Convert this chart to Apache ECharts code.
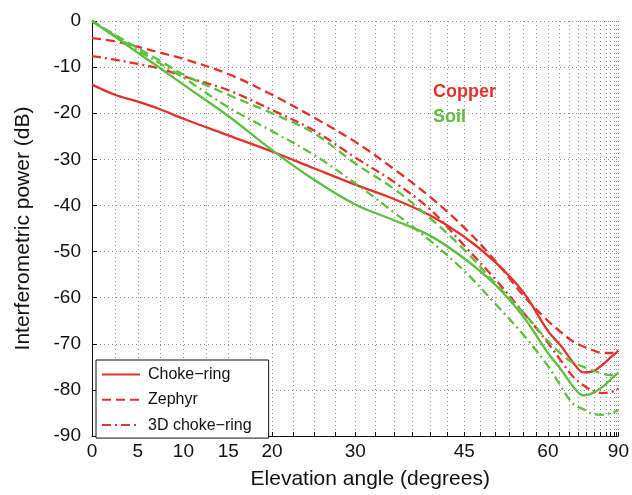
<!DOCTYPE html>
<html>
<head>
<meta charset="utf-8">
<script src="https://cdn.jsdelivr.net/npm/echarts@6/dist/echarts.min.js"></script>
<style>
html,body{margin:0;padding:0;background:#fff;}
#chart{width:632px;height:495px;}
</style>
</head>
<body>
<div id="chart"></div>
<script>
// Elevation angles (degrees) at which the curves were read
const elevations = [0, 2.5, 5, 7.5, 10, 15, 20, 25, 30, 35, 40, 45, 50, 55, 60, 63, 66, 69, 72, 76, 80, 85, 90];

// Copper ground plane (red)
const copperChokeRing = [-13.8, -16.0, -17.5, -19.2, -21.2, -24.8, -28.3, -32.0, -35.5, -38.6, -42.2, -46.8, -52.3, -58.8, -67.2, -70.5, -74.0, -76.2, -76.0, -74.5, -73.0, -71.9, -71.5];
const copperZephyr = [-3.7, -4.4, -5.6, -6.9, -8.2, -11.5, -16.0, -21.0, -26.2, -32.1, -38.2, -44.8, -52.0, -59.5, -65.0, -67.5, -69.5, -70.6, -71.4, -72.0, -72.0, -71.7, -71.5];
const copper3DChokeRing = [-7.6, -8.4, -9.3, -10.4, -12.0, -15.0, -19.3, -23.8, -29.6, -34.9, -40.9, -48.7, -56.0, -63.2, -69.8, -73.7, -77.1, -79.0, -80.2, -80.7, -80.5, -80.0, -79.7];

// Soil ground (green)
const soilChokeRing = [0, -3.4, -6.9, -10.3, -13.8, -20.6, -28.0, -34.5, -39.8, -43.2, -46.6, -51.5, -57.2, -64.1, -72.0, -75.6, -79.2, -81.2, -80.7, -79.3, -77.8, -76.6, -76.2];
const soilZephyr = [0, -3.0, -5.9, -8.7, -11.6, -16.0, -20.0, -24.4, -30.9, -36.4, -42.8, -49.6, -56.9, -63.2, -69.4, -72.2, -74.1, -75.0, -75.8, -76.5, -76.8, -76.6, -76.5];
const soil3DChokeRing = [0, -3.2, -6.4, -9.3, -12.3, -18.7, -23.9, -29.1, -35.2, -41.5, -47.7, -54.2, -61.3, -68.0, -74.8, -79.3, -83.0, -84.2, -85.2, -85.4, -85.0, -84.6, -84.4];

// Axis ticks
const xTickLabelsDeg = [0, 5, 10, 15, 20, 30, 45, 60, 90];
const xTickMarksDeg = [0, 2.5, 5, 7.5, 10, 12.5, 15, 17.5, 20, 22.5, 25, 27.5, 30, 32.5, 35, 37.5, 40, 42.5, 45, 47.5, 50, 52.5, 55, 57.5, 60, 62.5, 65, 67.5, 70, 72.5, 75, 77.5, 80, 82.5, 85, 87.5, 90];
const yMin = -90, yMax = 0, yStep = 10;

const legendNames = ['Choke\u2212ring', 'Zephyr', '3D choke\u2212ring'];

const RED = '#e2322b';
const GREEN = '#5cbf3f';

// The horizontal axis is sin(elevation)
const toAxis = d => Math.min(1, Math.sin(d * Math.PI / 180));
const fromAxis = v => Math.round(Math.asin(Math.min(1, v)) * 180 / Math.PI);
const pairs = arr => elevations.map((e, i) => [toAxis(e), arr[i]]);

const solid = 'solid';
const dashed = [9, 5];
const dashDot = [9, 4, 2, 4];

function mk(name, data, color, type) {
  return {
    name: name,
    type: 'line',
    data: pairs(data),
    symbol: 'none',
    smooth: 0.35,
    lineStyle: { color: color, width: 2.3, type: type },
    itemStyle: { color: color },
    emphasis: { disabled: true },
    z: 3
  };
}

const chart = echarts.init(document.getElementById('chart'), null, { renderer: 'canvas' });
const FONT = '"Liberation Sans", Arial, Helvetica, sans-serif';

chart.setOption({
  animation: false,
  backgroundColor: '#fff',
  grid: { left: 92, right: 12, top: 21, bottom: 57.5 },
  xAxis: {
    type: 'value',
    min: 0,
    max: 1,
    name: 'Elevation angle (degrees)',
    nameLocation: 'middle',
    nameGap: 33,
    nameTextStyle: { fontFamily: FONT, fontSize: 21, color: '#111', padding: [0, 0, 0, 30] },
    axisLine: { show: true, onZero: false, lineStyle: { color: '#111', width: 1 } },
    axisTick: { show: true, inside: true, length: 4, lineStyle: { color: '#111' }, customValues: xTickMarksDeg.map(toAxis) },
    axisLabel: { fontFamily: FONT, fontSize: 19, color: '#111', margin: 6, customValues: xTickLabelsDeg.map(toAxis), formatter: v => String(fromAxis(v)) },
    splitLine: { show: true, lineStyle: { color: '#8a8a8a', width: 1, type: [1, 3] } }
  },
  yAxis: {
    type: 'value',
    min: yMin,
    max: yMax,
    interval: yStep,
    name: 'Interferometric power (dB)',
    nameLocation: 'middle',
    nameGap: 58,
    nameTextStyle: { fontFamily: FONT, fontSize: 21, color: '#111' },
    axisLine: { show: true, onZero: false, lineStyle: { color: '#111', width: 1 } },
    axisTick: { show: true, inside: true, length: 5, lineStyle: { color: '#111' } },
    axisLabel: { fontFamily: FONT, fontSize: 19, color: '#111', margin: 11 },
    splitLine: { show: true, lineStyle: { color: '#8a8a8a', width: 1, type: [1, 3] } }
  },
  legend: {
    data: legendNames,
    orient: 'vertical',
    left: 96,
    top: 360,
    itemWidth: 38,
    itemHeight: 14,
    itemGap: 9.3,
    padding: [6.5, 17, 5, 5],
    backgroundColor: '#fff',
    borderColor: '#111',
    borderWidth: 1,
    borderRadius: 0,
    selectedMode: false,
    itemStyle: { opacity: 0 },
    textStyle: { fontFamily: FONT, fontSize: 16, color: '#111', padding: [0, 0, 0, 3] }
  },
  graphic: [
    { type: 'text', left: 433, top: 83, style: { text: 'Copper', fill: RED, font: 'bold 18px ' + FONT } },
    { type: 'text', left: 433, top: 108, style: { text: 'Soil', fill: GREEN, font: 'bold 18px ' + FONT } }
  ],
  series: [
    mk(legendNames[0], copperChokeRing, RED, solid),
    mk(legendNames[1], copperZephyr, RED, dashed),
    mk(legendNames[2], copper3DChokeRing, RED, dashDot),
    mk(legendNames[0], soilChokeRing, GREEN, solid),
    mk(legendNames[1], soilZephyr, GREEN, dashed),
    mk(legendNames[2], soil3DChokeRing, GREEN, dashDot)
  ]
});
</script>
</body>
</html>
